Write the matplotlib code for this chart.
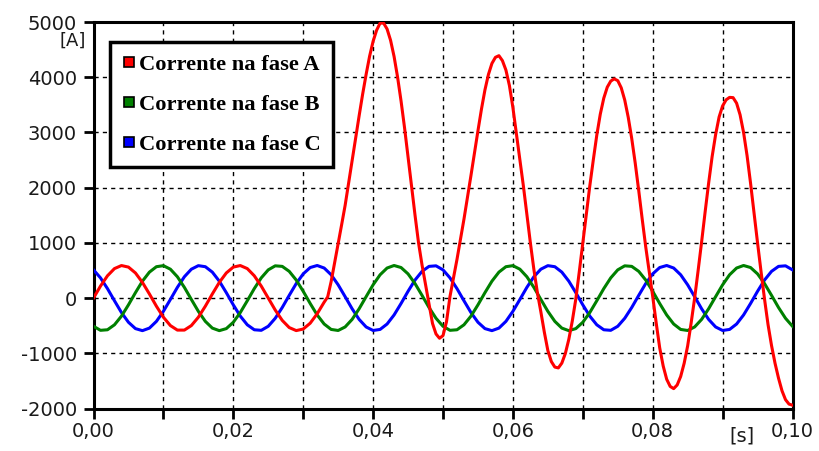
import numpy as np
import matplotlib
matplotlib.use("Agg")
import matplotlib.pyplot as plt
from matplotlib.lines import Line2D

# -----------------------------
# Data
# -----------------------------
# phase A: 1 ms steps before the fault, 0.5 ms steps from 33 ms on
fase_a_pre = [0, 217, 404, 534, 589, 561, 455, 284, 74, -147,
              -347, -498, -580, -580, -498, -347, -147, 74, 284, 455,
              561, 589, 534, 404, 217, 0, -217, -404, -534, -589,
              -561, -455, -284]
fase_a_post = [-74, 20, 300, 640, 980, 1330, 1680, 2080, 2490, 2900,          # 33.0 ms
               3300, 3690, 4050, 4380, 4650, 4850, 4980, 4980, 4873, 4668,    # 38.0
               4376, 4003, 3568, 3083, 2562, 2029, 1499, 1000, 600, 250,      # 43.0
               -100, -460, -650, -728, -680, -430, 30, 360, 700, 1060,        # 48.0
               1430, 1820, 2220, 2630, 3030, 3420, 3770, 4050, 4250, 4360,    # 53.0
               4390, 4300, 4130, 3850, 3450, 2980, 2500, 2030, 1520, 1000,    # 58.0
               520, 100, -250, -620, -950, -1150, -1250, -1265, -1178, -1005, # 63.0
               -747, -413, -18, 480, 1000, 1520, 2030, 2500, 2950, 3330,      # 68.0
               3620, 3820, 3930, 3970, 3938, 3808, 3586, 3274, 2890, 2444,    # 73.0
               1948, 1429, 930, 480, 30, -450, -900, -1230, -1470, -1600,     # 78.0
               -1640, -1574, -1421, -1181, -867, -450, 0, 500, 1020, 1560,    # 83.0
               2080, 2560, 2960, 3280, 3480, 3590, 3635, 3630, 3530, 3320,    # 88.0
               3000, 2580, 2080, 1540, 1000, 480, -20, -480, -860, -1180,     # 93.0
               -1450, -1680, -1840, -1920, -1940]                             # 98.0

# phases B and C: 1 ms steps, 0..100 ms
fase_b = [-511, -584, -574, -484, -327, -123, 98, 306, 470, 568,
          587, 523, 386, 194, -25, -240, -422, -544, -590, -553,
          -438, -262, -49, 171, 366, 511, 584, 574, 484, 327,
          123, -98, -306, -470, -568, -587, -523, -386, -194, 25,
          240, 422, 544, 590, 553, 438, 262, 49, -171, -366,
          -511, -584, -574, -484, -327, -123, 98, 306, 470, 568,
          587, 523, 386, 194, -25, -240, -422, -544, -590, -553,
          -438, -262, -49, 171, 366, 511, 584, 574, 484, 327,
          123, -98, -306, -470, -568, -587, -523, -386, -194, 25,
          240, 422, 544, 590, 553, 438, 262, 49, -171, -366,
          -511]

fase_c = [511, 366, 171, -49, -262, -438, -553, -590, -544, -422,
          -240, -25, 194, 386, 523, 587, 568, 470, 306, 98,
          -123, -327, -484, -574, -584, -511, -366, -171, 49, 262,
          438, 553, 590, 544, 422, 240, 25, -194, -386, -523,
          -587, -568, -470, -306, -98, 123, 327, 484, 574, 584,
          511, 366, 171, -49, -262, -438, -553, -590, -544, -422,
          -240, -25, 194, 386, 523, 587, 568, 470, 306, 98,
          -123, -327, -484, -574, -584, -511, -366, -171, 49, 262,
          438, 553, 590, 544, 422, 240, 25, -194, -386, -523,
          -587, -568, -470, -306, -98, 123, 327, 484, 574, 584,
          511]

series_names = ["Corrente na fase A", "Corrente na fase B", "Corrente na fase C"]
series_colors = ["#ff0000", "#008000", "#0000ff"]

x_ticks = [0.00, 0.01, 0.02, 0.03, 0.04, 0.05, 0.06, 0.07, 0.08, 0.09, 0.10]
x_labels = ["0,00", "", "0,02", "", "0,04", "", "0,06", "", "0,08", "", "0,10"]
y_ticks = [-2000, -1000, 0, 1000, 2000, 3000, 4000, 5000]

# time bases (seconds)
t_bc = np.arange(len(fase_b)) / 1000.0
t_a = np.concatenate([np.arange(len(fase_a_pre)),
                      33 + 0.5 * np.arange(len(fase_a_post))]) / 1000.0
fase_a = fase_a_pre + fase_a_post

# -----------------------------
# Figure
# -----------------------------
fig = plt.figure(figsize=(8.19, 4.51), dpi=100)
ax = fig.add_axes([93.5 / 819, 1 - 408.5 / 451, 699 / 819, 386.5 / 451])

lw = 2.2
ax.plot(t_bc, fase_c, color=series_colors[2], lw=lw, zorder=3)
ax.plot(t_bc, fase_b, color=series_colors[1], lw=lw, zorder=3)
ax.plot(t_a, fase_a, color=series_colors[0], lw=lw, zorder=4)

ax.set_xlim(0, 0.10)
ax.set_ylim(-2000, 5000)
ax.set_xticks(x_ticks)
ax.set_xticklabels(x_labels)
ax.set_yticks(y_ticks)
ax.set_yticklabels([str(v) for v in y_ticks])

ax.grid(True, color="black", linestyle=(0, (3, 3)), linewidth=1.0, zorder=1)
ax.set_axisbelow(True)

for sp in ax.spines.values():
    sp.set_linewidth(2.2)
    sp.set_color("black")

ax.tick_params(axis="both", direction="out", length=7, width=2.0,
               labelsize=14, colors="black")
ax.tick_params(axis="y", pad=5)
ax.tick_params(axis="x", pad=3)
for lab in ax.get_xticklabels() + ax.get_yticklabels():
    lab.set_color("#1a1a1a")

# unit labels
fig.text(73 / 819, 1 - 41 / 451, "[A]", ha="center", va="center",
         fontsize=13, color="#1a1a1a")
fig.text(741.5 / 819, 1 - 436 / 451, "[s]", ha="center", va="center",
         fontsize=14, color="#1a1a1a")

# legend
handles = [Line2D([], [], linestyle="none", marker="s", markersize=7.5,
                  markerfacecolor=c, markeredgecolor="black", markeredgewidth=1.2)
           for c in series_colors]
leg = ax.legend(handles, series_names, loc="upper left",
                bbox_to_anchor=((110 - 93.5) / 699, (408.5 - 42) / 386.5),
                borderaxespad=0, frameon=True, fancybox=False,
                prop={"family": "Liberation Serif", "weight": "bold", "size": 16.2},
                handlelength=0.6, handletextpad=0.15, labelspacing=0.85,
                borderpad=0.55)
leg.get_frame().set_edgecolor("black")
leg.get_frame().set_linewidth(2.5)
leg.get_frame().set_facecolor("white")
leg.get_frame().set_alpha(1.0)
leg.set_zorder(10)

plt.savefig("out.png", dpi=100)
